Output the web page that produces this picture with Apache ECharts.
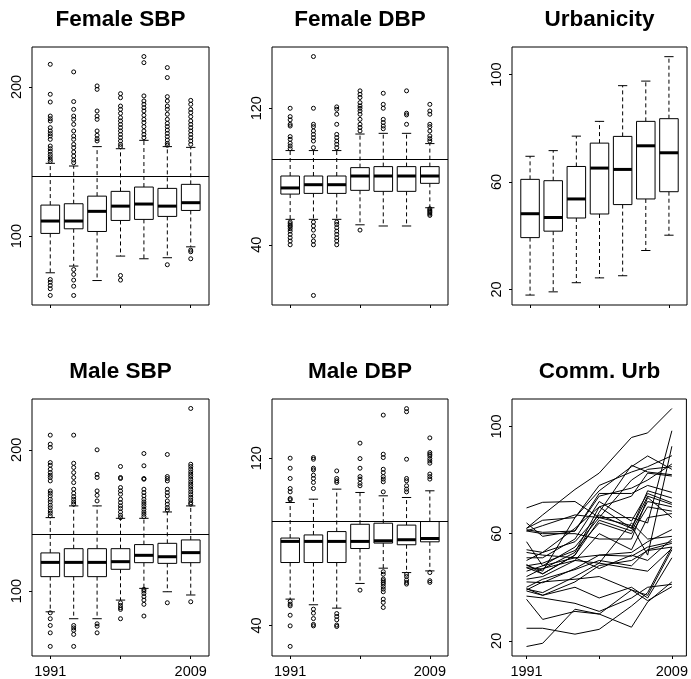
<!DOCTYPE html>
<html>
<head>
<meta charset="utf-8">
<script src="https://cdn.jsdelivr.net/npm/echarts@6/dist/echarts.min.js"></script>
<style>
html,body{margin:0;padding:0;background:#fff;}
#chart{width:691px;height:679px;}
</style>
</head>
<body>
<div id="chart"></div>
<script>
// ---------------- data ----------------
const years = [1991, 1993, 1997, 2000, 2004, 2006, 2009];
const panelTitles = ['Female SBP', 'Female DBP', 'Urbanicity', 'Male SBP', 'Male DBP', 'Comm. Urb'];
const sbpLimit = 140;
const dbpLimit = 90;

// box stats per wave: [lower whisker, Q1, median, Q3, upper whisker]
const femaleSbpBox = [
  [75.4, 101.8, 110.1, 120.8, 148.8],
  [79.9, 104.9, 110.1, 121.7, 147.0],
  [70.2, 103.1, 116.6, 126.8, 160.0],
  [86.6, 110.5, 120.1, 130.0, 158.6],
  [84.8, 111.2, 121.5, 132.9, 164.2],
  [85.5, 113.2, 120.1, 132.0, 160.0],
  [92.8, 117.2, 122.4, 134.7, 159.5]
];
const femaleSbpOut = [
  [215.2, 195.1, 189.9, 180.5, 178.7, 177.2, 172.7, 170.5, 168.7, 167.1, 164.9, 160.4, 158.6, 156.8, 154.8, 153.2, 151.5, 150.1, 70.9, 69.1, 66.9, 64.7, 60.2],
  [210.1, 190.2, 185.0, 180.5, 178.3, 174.9, 170.5, 167.1, 164.9, 161.5, 159.3, 156.4, 153.7, 151.0, 149.2, 77.6, 74.3, 70.5, 66.4, 60.2],
  [200.7, 198.4, 183.9, 180.5, 178.3, 170.5, 167.6, 165.3, 163.8],
  [195.5, 192.8, 187.2, 185.0, 182.3, 179.4, 177.2, 174.9, 172.7, 170.5, 168.2, 166.0, 163.8, 161.5, 160.0, 73.6, 70.5],
  [220.4, 216.3, 194.0, 190.6, 188.4, 186.1, 183.9, 181.0, 178.3, 176.1, 173.4, 170.5, 168.2, 166.0],
  [213.0, 206.3, 193.5, 190.6, 187.2, 185.0, 181.7, 178.3, 175.6, 173.4, 171.1, 168.9, 166.7, 164.4, 162.2, 160.9, 80.8],
  [191.0, 188.4, 185.0, 182.8, 180.1, 177.2, 174.9, 172.7, 170.5, 168.2, 166.0, 163.8, 161.5, 90.6, 89.5, 84.8]
];

const femaleDbpBox = [
  [54.9, 69.7, 73.3, 80.3, 95.2],
  [54.9, 70.1, 75.2, 80.3, 95.2],
  [54.9, 70.1, 75.2, 80.3, 95.2],
  [51.7, 71.9, 80.3, 85.2, 104.9],
  [51.0, 71.3, 80.3, 85.8, 105.3],
  [51.0, 71.3, 80.3, 85.8, 105.3],
  [61.7, 76.0, 80.3, 85.8, 99.3]
];
const femaleDbpOut = [
  [120, 115.1, 113.2, 110.6, 109.6, 103.4, 101.8, 99.5, 97.9, 96.3, 53.3, 52.3, 51.3, 50.6, 49.4, 48, 46.1, 44.1, 42.2, 40],
  [150.3, 120, 110.6, 109.2, 106.7, 104.7, 102.8, 100.8, 96.9, 53.3, 51, 48.6, 45.1, 42.2, 40, 10.3],
  [120.8, 119.4, 116.5, 110.6, 104.7, 102.8, 100.8, 98.9, 96.9, 53.3, 51.9, 50, 48, 46.1, 44.1, 42.2, 40],
  [130.2, 128.2, 126.3, 123.3, 121.4, 120, 118.4, 116.5, 113.5, 110.6, 108.7, 106.7, 48.6],
  [128.8, 122.3, 120, 113.5, 111.6, 109.6, 108],
  [130.2, 117.1, 116.1, 110.6],
  [122.3, 118.4, 116.5, 110.6, 109.2, 106.7, 103.8, 102.2, 100.8, 61.1, 60.3, 59.6, 58.8, 58, 57.2]
];

const urbanBox = [
  [17.9, 39.3, 48.2, 61.0, 69.6],
  [19.1, 41.7, 46.8, 60.5, 71.7],
  [22.5, 46.6, 53.7, 65.8, 77.1],
  [24.3, 48.1, 65.2, 74.5, 82.6],
  [25.1, 51.6, 64.7, 77.0, 95.9],
  [34.5, 53.7, 73.5, 82.6, 97.6],
  [40.2, 56.4, 70.9, 83.6, 106.7]
];

const maleSbpBox = [
  [85.3, 110.2, 120.3, 127.0, 152.0],
  [80.4, 110.2, 120.3, 130.0, 160.3],
  [80.4, 110.2, 120.3, 130.0, 160.3],
  [93.6, 115.4, 120.8, 130.0, 151.5],
  [101.9, 120.1, 125.3, 132.9, 151.5],
  [99.5, 119.6, 124.3, 133.8, 156.0],
  [97.2, 120.1, 127.2, 136.2, 160.3]
];
const maleSbpOut = [
  [210.4, 204, 201.7, 191, 189.1, 186.3, 183.9, 182, 180.4, 178, 170.9, 169.3, 167.4, 165, 163.1, 160.8, 158.9, 156.7, 155.1, 153.2, 84.6, 80.4, 75.6, 70.4, 60.8],
  [210.4, 190.5, 187.5, 183.9, 180.4, 176.8, 172.1, 169.3, 166.9, 165, 163.1, 161.5, 75.6, 73.9, 72.2, 69.3, 60.8],
  [200, 182.7, 180.4, 170.9, 167.8, 163.8, 76.8, 75.1, 70.4],
  [188.2, 180.4, 179.7, 173.3, 170.9, 168.6, 165, 162.6, 160.3, 158.4, 156, 153.7, 152, 91.7, 89.8, 88.2, 87, 80.4],
  [197.4, 188.7, 179.7, 179.2, 172.1, 169.7, 167.4, 165, 163.1, 161.5, 159.8, 157.9, 156, 154.4, 152.7, 101.2, 100, 98.3, 96, 93.6, 90.6, 82.3],
  [196.7, 181.1, 179.7, 178, 172.1, 169.7, 167.4, 163.8, 161.5, 159.1, 157.4, 91.7],
  [229.3, 189.8, 188.2, 186.3, 184.4, 182.7, 181.1, 179.2, 177.3, 175.6, 174, 172.1, 170.2, 168.3, 166.4, 164.5, 162.6, 161.5, 92.4]
];

const maleDbpBox = [
  [52.6, 70.1, 80.2, 81.8, 98.8],
  [49.9, 70.1, 80.2, 83.3, 100.4],
  [48.3, 70.1, 80.2, 84.9, 105.2],
  [60.1, 76.8, 80.2, 88.4, 103.6],
  [67.4, 79.4, 80.5, 88.9, 102.0],
  [65.3, 78.6, 81.0, 88.0, 101.2],
  [66.1, 80.0, 81.6, 89.7, 104.4]
];
const maleDbpOut = [
  [120, 115.2, 110.3, 105.5, 103.9, 100.7, 100.1, 51.5, 50.2, 49.4, 44.9, 39.8, 30],
  [120.3, 119.5, 115.2, 114.4, 111.9, 110.3, 108.4, 105.5, 47.8, 45.9, 43.3, 40.5, 39.8],
  [113.9, 110.3, 109.2, 108.4, 45.7, 44.3, 42.7, 40.2, 39.5],
  [127.2, 119.8, 115.2, 111.2, 110, 108, 106.8, 56.9],
  [140.6, 121.9, 120.3, 114.7, 113.1, 111.2, 110, 108.7, 103.9, 65.7, 64.5, 62.2, 61.4, 60.6, 59.8, 58.6, 57.4, 56.1, 52.6, 51, 48.6],
  [143.7, 142.2, 119.5, 110.3, 109.2, 106.8, 105.2, 103.9, 64.5, 63.4, 61.8, 60.6, 59.8],
  [129.7, 122.7, 121.9, 121.1, 119.8, 118.7, 117.6, 112.4, 111.2, 110, 65.3, 61.4, 60.6]
];

// community urbanicity trajectories (one row per community, one value per wave)
const commUrb = [
  [62, 67, 76.5, 82.6, 95.9, 97.6, 106.7],
  [61, 63, 67, 66, 66, 64, 98.4],
  [57, 48, 55, 66, 63, 52, 92.6],
  [48.2, 46, 66, 76, 85, 89, 84],
  [69.6, 71.7, 72, 66, 80, 84, 85],
  [62, 65, 66, 78, 83, 85, 89.1],
  [47.3, 45, 52, 68, 85.5, 83, 82],
  [47.3, 46.8, 53, 70, 74, 82.6, 81.5],
  [61.5, 60.5, 61, 74, 77, 80, 86],
  [64, 59, 61, 75, 75, 78, 75.4],
  [54, 53, 62, 70, 62, 76, 73.3],
  [51, 51, 58, 72, 64.7, 75, 71.5],
  [50, 53, 57, 67, 62, 74, 70.9],
  [48.5, 45, 52, 65, 61, 72, 70],
  [48, 49, 53.7, 64, 60, 70, 68.4],
  [44, 47, 50, 60, 54, 66, 67.5],
  [61, 60, 60, 58, 58, 73.5, 66],
  [53, 52, 51, 52, 53, 57, 61.5],
  [43, 44, 50, 49, 64, 58, 59],
  [46, 48, 51, 47, 52, 50, 58],
  [42, 41.7, 47, 52, 51.6, 55, 57],
  [40, 43, 46.6, 50, 48, 54, 56.4],
  [39.5, 37, 42, 48.1, 50, 53.7, 55],
  [39.3, 38, 44, 49, 47, 46, 54.5],
  [39, 42, 43, 44, 39, 37, 54],
  [38.6, 37, 40, 36, 40, 36, 51],
  [36.7, 36, 34, 31, 36, 40, 41.1],
  [35.5, 28, 31, 30, 39, 35, 40.2],
  [24.7, 24.7, 22.5, 24.3, 33, 38, 55],
  [17.9, 19.1, 31.8, 30, 25.1, 34.5, 42]
];

// axis ticks
const yTicks = [[100, 200], [40, 120], [20, 60, 100], [100, 200], [40, 120], [20, 60, 100]];
const yRanges = [[53.8, 226.8], [4.7, 155.9], [14.2, 110.3], [54.0, 236.0], [25.4, 148.3], [14.35, 110.25]];

// ---------------- layout ----------------
const FONT = '"Liberation Sans", Arial, Helvetica, sans-serif';
const grids = [
  {left: 32, top: 47, width: 177, height: 258},
  {left: 272, top: 47, width: 176, height: 258},
  {left: 512, top: 47, width: 175, height: 258},
  {left: 32, top: 399, width: 177, height: 258},
  {left: 272, top: 399, width: 176, height: 258},
  {left: 512, top: 399, width: 175, height: 258}
];

function boxRender(params, api) {
  const x = api.value(0);
  const lw = api.value(1), q1 = api.value(2), md = api.value(3), q3 = api.value(4), uw = api.value(5);
  const half = 0.4, cap = 0.2;
  const c = (a, b) => api.coord([a, b]);
  const seg = (p1, p2, style) => ({type: 'line', shape: {x1: p1[0], y1: p1[1], x2: p2[0], y2: p2[1]}, style: style});
  const dash = {stroke: '#000', lineWidth: 1, lineDash: [4, 3]};
  const solid = {stroke: '#000', lineWidth: 1};
  const tl = c(x - half, q3), br = c(x + half, q1);
  return {
    type: 'group',
    children: [
      seg(c(x, q3), c(x, uw), dash),
      seg(c(x, q1), c(x, lw), dash),
      seg(c(x - cap, uw), c(x + cap, uw), solid),
      seg(c(x - cap, lw), c(x + cap, lw), solid),
      {type: 'rect', shape: {x: tl[0], y: tl[1], width: br[0] - tl[0], height: br[1] - tl[1]},
       style: {fill: '#fff', stroke: '#000', lineWidth: 1}},
      seg(c(x - half, md), c(x + half, md), {stroke: '#000', lineWidth: 3})
    ]
  };
}

const xAxes = [], yAxes = [], series = [], graphics = [];
for (let i = 0; i < 6; i++) {
  const bottom = i >= 3;
  const isLine = i === 5;
  xAxes.push({
    type: 'value', gridIndex: i,
    min: isLine ? 1989.2 : 0.22, max: isLine ? 2010.8 : 7.78,
    axisLine: {show: false}, splitLine: {show: false},
    axisTick: {show: true, length: 3, lineStyle: {color: '#000'},
      customValues: isLine ? [years[0], years[3], years[6]] : [1, 4, 7]},
    axisLabel: {show: bottom, margin: 8, color: '#000', fontFamily: FONT, fontSize: 14.5,
      customValues: isLine ? [years[0], years[6]] : [1, 7],
      formatter: isLine ? (v => String(v)) : (v => String(years[Math.round(v) - 1]))}
  });
  yAxes.push({
    type: 'value', gridIndex: i, min: yRanges[i][0], max: yRanges[i][1],
    axisLine: {show: false}, splitLine: {show: false},
    axisTick: {show: true, length: 3, lineStyle: {color: '#000'}, customValues: yTicks[i]},
    axisLabel: {show: true, rotate: 90, margin: 8, color: '#000', fontFamily: FONT, fontSize: 14.5,
      customValues: yTicks[i]}
  });
  const g = grids[i];
  graphics.push({
    type: 'text', x: g.left + g.width / 2, y: bottom ? 372 : 20,
    style: {text: panelTitles[i], font: 'bold 22.5px ' + FONT, fill: '#000',
      textAlign: 'center', textVerticalAlign: 'middle', align: 'center', verticalAlign: 'middle'}
  });
}

const boxSets = [femaleSbpBox, femaleDbpBox, urbanBox, maleSbpBox, maleDbpBox];
const outSets = [femaleSbpOut, femaleDbpOut, null, maleSbpOut, maleDbpOut];
const refLines = [sbpLimit, dbpLimit, null, sbpLimit, dbpLimit];

boxSets.forEach((stats, i) => {
  series.push({
    type: 'custom', xAxisIndex: i, yAxisIndex: i, silent: true, z: 2,
    renderItem: boxRender,
    encode: {x: 0, y: [1, 2, 3, 4, 5]},
    data: stats.map((s, k) => [k + 1].concat(s))
  });
  if (outSets[i]) {
    const pts = [];
    outSets[i].forEach((vals, k) => vals.forEach(v => pts.push([k + 1, v])));
    series.push({
      type: 'scatter', xAxisIndex: i, yAxisIndex: i, silent: true, z: 3,
      symbol: 'circle', symbolSize: 4,
      itemStyle: {color: 'rgba(0,0,0,0)', borderColor: '#000', borderWidth: 1, opacity: 1},
      data: pts,
      markLine: {
        silent: true, symbol: ['none', 'none'], label: {show: false},
        lineStyle: {color: '#000', width: 1, type: 'solid'},
        data: [{yAxis: refLines[i]}]
      }
    });
  }
});

commUrb.forEach(row => {
  series.push({
    type: 'line', xAxisIndex: 5, yAxisIndex: 5, silent: true,
    showSymbol: false, symbol: 'none',
    lineStyle: {color: '#000', width: 1},
    data: years.map((y, j) => [y, row[j]])
  });
});

const chart = echarts.init(document.getElementById('chart'), null, {renderer: 'canvas'});
chart.setOption({
  animation: false,
  backgroundColor: '#fff',
  grid: grids.map(g => Object.assign({show: true, borderColor: '#000', borderWidth: 1, backgroundColor: 'transparent'}, g)),
  xAxis: xAxes,
  yAxis: yAxes,
  series: series,
  graphic: graphics
});
</script>
</body>
</html>
